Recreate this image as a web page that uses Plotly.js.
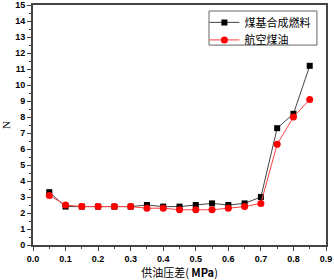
<!DOCTYPE html>
<html><head><meta charset="utf-8">
<script src="https://cdn.plot.ly/plotly-3.0.1.min.js"></script>
<style>html,body{margin:0;padding:0;background:#fff}#chart{width:334px;height:280px}</style>
</head><body><div id="chart"></div>
<script>
const pressure = [0.05,0.1,0.15,0.2,0.25,0.3,0.35,0.4,0.45,0.5,0.55,0.6,0.65,0.7,0.75,0.8,0.85];
const coalFuel = [3.3,2.4,2.4,2.4,2.4,2.4,2.5,2.4,2.4,2.5,2.6,2.5,2.6,3.0,7.3,8.2,11.2];
const jetFuel  = [3.1,2.5,2.4,2.4,2.4,2.4,2.3,2.3,2.2,2.2,2.2,2.3,2.4,2.6,6.3,8.0,9.1];
const seriesNames = ['煤基合成燃料','航空煤油'];

const traces = [
  {x: pressure, y: coalFuel, name: seriesNames[0], mode: 'lines+markers', legend: 'legend',
   line: {color: '#444', width: 1}, marker: {symbol: 'square', color: '#000', size: 6}},
  {x: pressure, y: jetFuel, name: seriesNames[1], mode: 'lines+markers', legend: 'legend2',
   line: {color: '#ff4040', width: 1}, marker: {symbol: 'circle', color: '#ff0000', size: 7}}
];
const axisCommon = {
  showline: true, linecolor: '#444', linewidth: 2, mirror: true,
  ticks: 'outside', ticklen: 4, tickwidth: 1, tickcolor: '#444',
  showgrid: false, zeroline: false,
  tickfont: {family: 'Liberation Sans, Arial, sans-serif', size: 9, color: '#000', weight: 'bold'}
};
const legendCommon = {
  xanchor: 'left', yanchor: 'top', bgcolor: 'rgba(0,0,0,0)', borderwidth: 0,
  font: {family: 'Noto Sans CJK SC', size: 11, color: '#000'}, itemwidth: 30
};
const layout = {
  width: 334, height: 280,
  margin: {l: 33, r: 8, t: 5, b: 35},
  paper_bgcolor: '#fff', plot_bgcolor: '#fff',
  showlegend: true,
  legend: Object.assign({}, legendCommon, {x: 0.585, y: 0.988}),
  legend2: Object.assign({}, legendCommon, {x: 0.585, y: 0.915}),
  shapes: [{type: 'rect', xref: 'paper', yref: 'paper', x0: 0.6007, x1: 0.969, y0: 0.833, y1: 0.975,
    line: {color: '#666', width: 1}, fillcolor: '#fff', layer: 'below'}],
  xaxis: Object.assign({}, axisCommon, {
    range: [0, 0.9], dtick: 0.1, tickformat: '.1f',
    minor: {dtick: 0.05, ticklen: 2, tickcolor: '#444', ticks: 'outside'},
    title: {text: '供油压差( <b>MPa</b>)', standoff: 0,
      font: {family: 'Noto Sans CJK SC', size: 11, color: '#000'}}
  }),
  yaxis: Object.assign({}, axisCommon, {
    range: [0, 15], dtick: 1,
    minor: {dtick: 0.5, ticklen: 2, tickcolor: '#444', ticks: 'outside'},
    title: {text: 'N', standoff: 3,
      font: {family: 'Liberation Serif, serif', size: 11, color: '#000'}}
  })
};
Plotly.newPlot('chart', traces, layout, {displayModeBar: false, staticPlot: true});
</script></body></html>
